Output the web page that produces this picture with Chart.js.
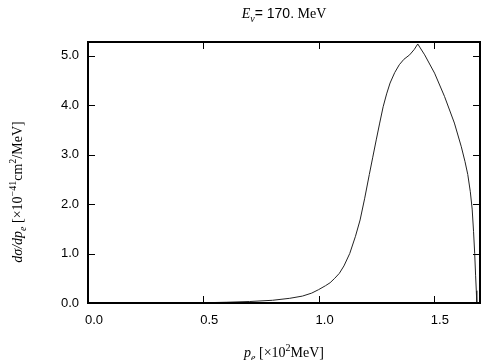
<!DOCTYPE html>
<html>
<head>
<meta charset="utf-8">
<script src="https://cdn.jsdelivr.net/npm/chart.js@4/dist/chart.umd.min.js"></script>
<style>
html,body{margin:0;padding:0;background:#fff;}
#wrap{width:504px;height:360px;position:relative;}
</style>
</head>
<body>
<div id="wrap"><canvas id="c" width="504" height="360"></canvas></div>
<script>
// Data
const pe   = [0.50, 0.60, 0.70, 0.80, 0.875, 0.93, 0.97, 1.00, 1.03, 1.05, 1.07, 1.09, 1.11, 1.135, 1.16, 1.18, 1.20, 1.22, 1.235, 1.25, 1.265, 1.28, 1.295, 1.31, 1.33, 1.35, 1.37, 1.395, 1.415, 1.43, 1.46, 1.503, 1.546, 1.589, 1.619, 1.635, 1.647, 1.658, 1.666, 1.672, 1.677, 1.681, 1.684, 1.686];
const dsig = [0.005, 0.015, 0.03, 0.055, 0.095, 0.14, 0.20, 0.27, 0.35, 0.41, 0.50, 0.60, 0.75, 1.00, 1.35, 1.68, 2.12, 2.60, 2.95, 3.30, 3.64, 3.97, 4.23, 4.45, 4.66, 4.82, 4.93, 5.02, 5.13, 5.24, 5.02, 4.65, 4.18, 3.64, 3.16, 2.86, 2.60, 2.25, 1.90, 1.45, 1.00, 0.55, 0.25, 0.0];
const xTickValues = [0.0, 0.5, 1.0, 1.5];
const yTickValues = [0.0, 1.0, 2.0, 3.0, 4.0, 5.0];
const xRange = [0, 1.7];
const yRange = [0, 5.28];

const SERIF = '"Liberation Serif","DejaVu Serif",serif';
const SANS = '"Liberation Sans",Arial,sans-serif';

const titleSegs = [
  {t:'E', i:true, f:SERIF},
  {t:'\u03BD', i:true, f:SERIF, s:'sub'},
  {t:'= 170.', f:SANS},
  {t:' MeV', f:SERIF}
];
const xTitleSegs = [
  {t:'p', i:true, f:SERIF},
  {t:'e', i:true, f:SERIF, s:'sub'},
  {t:' [\u00D710', f:SERIF},
  {t:'2', f:SERIF, s:'sup'},
  {t:'MeV]', f:SERIF}
];
const yTitleSegs = [
  {t:'d\u03C3/dp', i:true, f:SERIF},
  {t:'e', i:true, f:SERIF, s:'sub'},
  {t:' [\u00D710', f:SERIF},
  {t:'\u221241', f:SERIF, s:'sup'},
  {t:'cm', f:SERIF},
  {t:'2', f:SERIF, s:'sup'},
  {t:'/MeV]', f:SERIF}
];

function segFont(seg, size){
  const sz = seg.s ? Math.round(size*0.72) : size;
  return (seg.i ? 'italic ' : '') + sz + 'px ' + seg.f;
}
function drawRich(ctx, segs, cx, cy, size){
  ctx.save();
  ctx.textBaseline = 'alphabetic';
  ctx.textAlign = 'left';
  let w = 0;
  segs.forEach(s => { ctx.font = segFont(s, size); w += ctx.measureText(s.t).width; });
  let x = cx - w/2;
  const base = cy + size*0.35;
  segs.forEach(s => {
    ctx.font = segFont(s, size);
    let y = base;
    if (s.s === 'sub') y += size*0.3;
    if (s.s === 'sup') y -= size*0.45;
    ctx.fillStyle = '#000';
    ctx.fillText(s.t, x, y);
    x += ctx.measureText(s.t).width;
  });
  ctx.restore();
}

const framePlugin = {
  id: 'frame',
  afterDraw(chart){
    const ctx = chart.ctx;
    const a = chart.chartArea;
    const xs = chart.scales.x, ys = chart.scales.y;
    ctx.save();
    ctx.strokeStyle = '#000';
    ctx.lineWidth = 1;
    const tl = 7;
    ctx.beginPath();
    xTickValues.forEach(v => {
      const px = Math.round(xs.getPixelForValue(v)) + 0.5;
      ctx.moveTo(px, a.bottom); ctx.lineTo(px, a.bottom - tl);
      ctx.moveTo(px, a.top); ctx.lineTo(px, a.top + tl);
    });
    yTickValues.forEach(v => {
      const py = Math.round(ys.getPixelForValue(v)) + 0.5;
      ctx.moveTo(a.left, py); ctx.lineTo(a.left + tl, py);
      ctx.moveTo(a.right, py); ctx.lineTo(a.right - tl, py);
    });
    ctx.stroke();
    ctx.lineWidth = 2;
    ctx.strokeRect(a.left, a.top, a.right - a.left, a.bottom - a.top);
    ctx.restore();

    drawRich(ctx, titleSegs, (a.left + a.right)/2, 13, 14);
    drawRich(ctx, xTitleSegs, (a.left + a.right)/2, 352, 14);
    ctx.save();
    ctx.translate(17, 192);
    ctx.rotate(-Math.PI/2);
    drawRich(ctx, yTitleSegs, 0, 0, 14);
    ctx.restore();
  }
};

const points = pe.map((x, i) => ({x: x, y: dsig[i]}));

new Chart(document.getElementById('c'), {
  type: 'line',
  data: {
    datasets: [{
      data: points,
      borderColor: '#222',
      borderWidth: 1,
      pointRadius: 0,
      fill: false,
      tension: 0
    }]
  },
  options: {
    responsive: false,
    animation: false,
    devicePixelRatio: 1,
    layout: { padding: { top: 42, right: 24, left: 0, bottom: 0 } },
    plugins: { legend: { display: false }, tooltip: { enabled: false }, title: { display: false } },
    scales: {
      x: {
        type: 'linear',
        min: xRange[0], max: xRange[1],
        grid: { display: false, drawTicks: false },
        border: { display: false },
        afterBuildTicks(scale){ scale.ticks = xTickValues.map(v => ({value: v})); },
        afterFit(scale){ scale.height = 57; },
        ticks: {
          color: '#000',
          font: { family: SANS, size: 13 },
          padding: 10,
          labelOffset: 6,
          maxRotation: 0,
          callback: v => Number(v).toFixed(1)
        }
      },
      y: {
        type: 'linear',
        min: yRange[0], max: yRange[1],
        grid: { display: false, drawTicks: false },
        border: { display: false },
        afterBuildTicks(scale){ scale.ticks = yTickValues.map(v => ({value: v})); },
        afterFit(scale){ scale.width = 88; },
        ticks: {
          color: '#000',
          font: { family: SANS, size: 13 },
          padding: 9,
          callback: v => Number(v).toFixed(1)
        }
      }
    }
  },
  plugins: [framePlugin]
});
</script>
</body>
</html>
